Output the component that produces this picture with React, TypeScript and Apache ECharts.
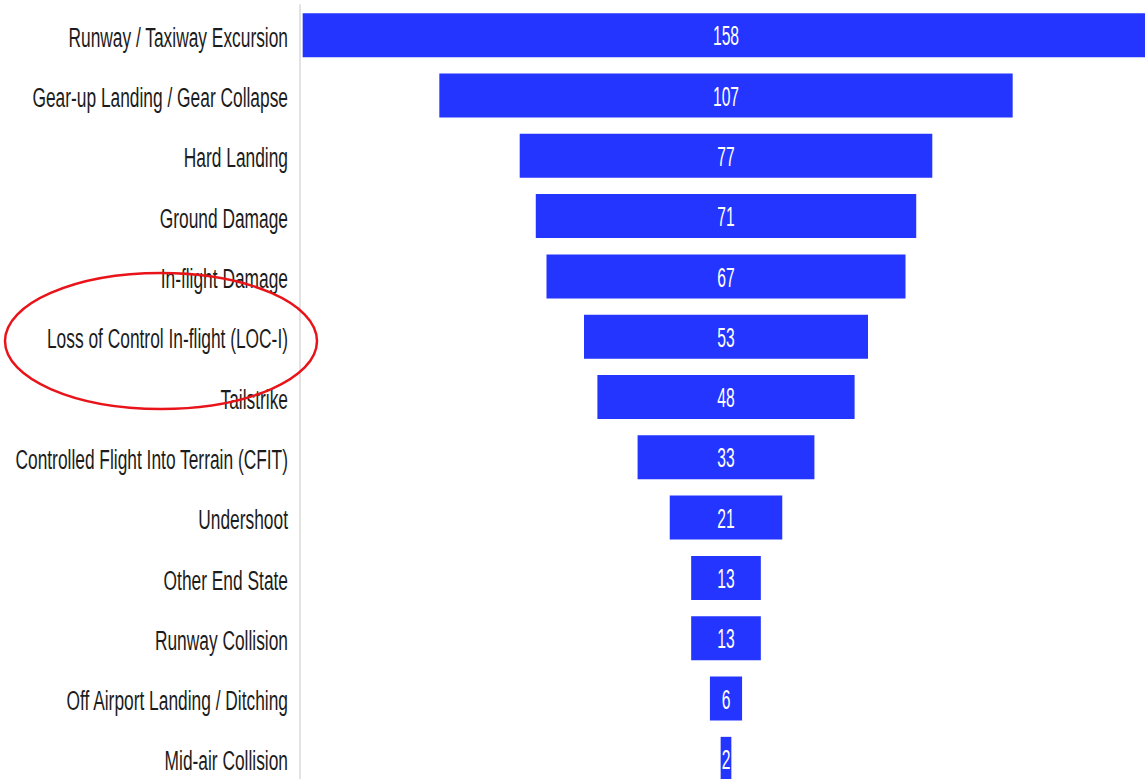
import React, { useEffect, useRef } from "react";
import * as echarts from "echarts";

const categories = [
  "Runway / Taxiway Excursion",
  "Gear-up Landing / Gear Collapse",
  "Hard Landing",
  "Ground Damage",
  "In-flight Damage",
  "Loss of Control In-flight (LOC-I)",
  "Tailstrike",
  "Controlled Flight Into Terrain (CFIT)",
  "Undershoot",
  "Other End State",
  "Runway Collision",
  "Off Airport Landing / Ditching",
  "Mid-air Collision",
];
const values = [158, 107, 77, 71, 67, 53, 48, 33, 21, 13, 13, 6, 2];
const axisMax = 159;

const FONT = "'Liberation Sans', Arial, sans-serif";

export default function App() {
  const ref = useRef<HTMLDivElement>(null);
  useEffect(() => {
    if (!ref.current) return;
    const chart = echarts.init(ref.current, null, { renderer: "svg" });
    chart.setOption({
      animation: false,
      grid: { left: 300, top: 5, width: 852, bottom: -10, containLabel: false, outerBoundsMode: "none" },
      xAxis: {
        type: "value",
        min: -axisMax / 2,
        max: axisMax / 2,
        show: false,
      },
      yAxis: {
        type: "category",
        inverse: true,
        data: categories,
        axisLine: { show: true, onZero: false, lineStyle: { color: "#e2e2e2", width: 2 } },
        axisTick: { show: false },
        axisLabel: { show: false },
        splitLine: { show: false },
      },
      series: [
        {
          type: "custom",
          clip: false,
          data: values.map((v, i) => [v, i]),
          encode: { x: 0, y: 1 },
          renderItem: (params: any, api: any) => {
            const v = api.value(0);
            const i = api.value(1);
            const l = api.coord([-v / 2, i]);
            const r = api.coord([v / 2, i]);
            const bh = 44;
            const cy = l[1];
            return {
              type: "group",
              children: [
                {
                  type: "rect",
                  shape: { x: l[0], y: cy - bh / 2, width: r[0] - l[0], height: bh },
                  style: { fill: "#2335FF" },
                },
                {
                  type: "text",
                  x: (l[0] + r[0]) / 2,
                  y: cy + 1,
                  scaleX: 0.58,
                  style: {
                    text: String(v),
                    fill: "#ffffff",
                    fontSize: 27,
                    fontFamily: FONT,
                    align: "center",
                    verticalAlign: "middle",
                  },
                },
                {
                  type: "text",
                  x: 288,
                  y: cy + 2,
                  scaleX: 0.62,
                  style: {
                    text: categories[i],
                    fill: "#1c1c1c",
                    fontSize: 28,
                    fontFamily: FONT,
                    align: "right",
                    verticalAlign: "middle",
                  },
                },
              ],
            };
          },
        },
      ],
      graphic: [
        {
          type: "ellipse",
          shape: { cx: 161, cy: 341, rx: 156, ry: 68 },
          style: { fill: "none", stroke: "#e8141a", lineWidth: 2.5 },
          z: 100,
        },
      ],
    });
    return () => chart.dispose();
  }, []);
  return (
    <div
      ref={ref}
      style={{ position: "fixed", left: 0, top: 0, width: 1145, height: 779, background: "#ffffff" }}
    />
  );
}
